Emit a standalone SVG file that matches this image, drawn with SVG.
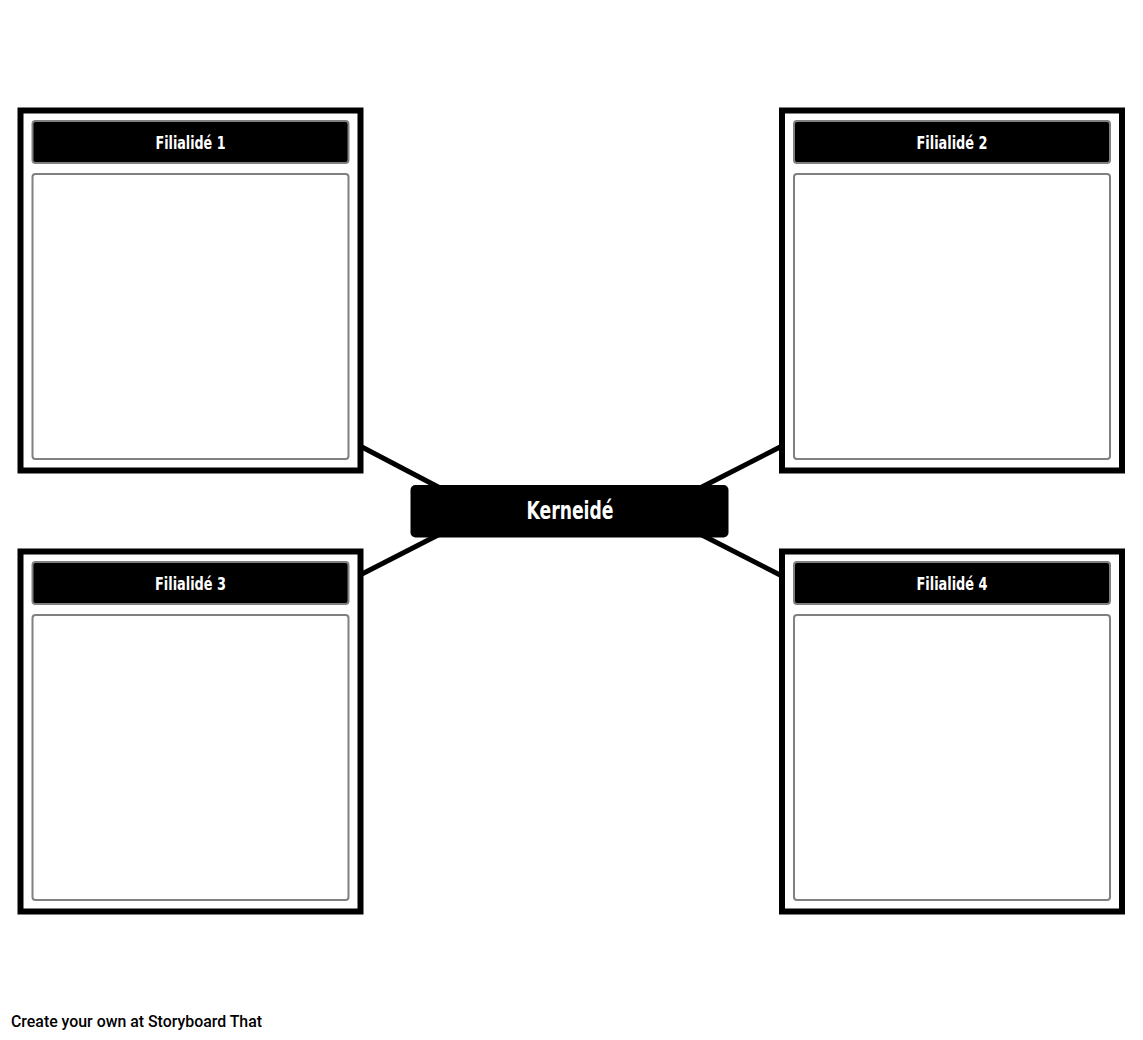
<svg xmlns="http://www.w3.org/2000/svg" width="1143" height="1040" viewBox="0 0 1143 1040">
<style>
.outer{fill:#fff;stroke:#000;stroke-width:6}
.hdr{fill:#000;stroke:#808080;stroke-width:2}
.body{fill:#fff;stroke:#808080;stroke-width:2}
.ht{fill:#fff;font-family:'DejaVu Sans Condensed','DejaVu Sans','Liberation Sans',sans-serif;font-stretch:condensed;font-weight:bold;font-size:18px;text-anchor:middle}
.ct{fill:#fff;font-family:'DejaVu Sans Condensed','DejaVu Sans','Liberation Sans',sans-serif;font-stretch:condensed;font-weight:bold;font-size:25px;text-anchor:middle}
.conn{stroke:#000;stroke-width:5;fill:none}
</style>
<rect width="1143" height="1040" fill="#fff"/>
<g id="connectors">
<line class="conn" x1="360" y1="446" x2="442" y2="489"/>
<line class="conn" x1="360" y1="575" x2="442" y2="533"/>
<line class="conn" x1="782" y1="446" x2="698" y2="489"/>
<line class="conn" x1="782" y1="576" x2="698" y2="533"/>
</g>
<g id="sub1">
<rect class="outer" x="20.5" y="110.5" width="340" height="360"/>
<rect class="hdr" x="32.5" y="121" width="316" height="42" rx="3"/>
<text class="ht" x="190.5" y="149" textLength="70" lengthAdjust="spacingAndGlyphs">Filialidé 1</text>
<rect class="body" x="32.5" y="174" width="316" height="285" rx="3"/>
</g>
<g id="sub2">
<rect class="outer" x="782" y="110.5" width="340" height="360"/>
<rect class="hdr" x="794" y="121" width="316" height="42" rx="3"/>
<text class="ht" x="952" y="149" textLength="71" lengthAdjust="spacingAndGlyphs">Filialidé 2</text>
<rect class="body" x="794" y="174" width="316" height="285" rx="3"/>
</g>
<g id="sub3">
<rect class="outer" x="20.5" y="551.5" width="340" height="360"/>
<rect class="hdr" x="32.5" y="562" width="316" height="42" rx="3"/>
<text class="ht" x="190.5" y="590" textLength="71" lengthAdjust="spacingAndGlyphs">Filialidé 3</text>
<rect class="body" x="32.5" y="615" width="316" height="285" rx="3"/>
</g>
<g id="sub4">
<rect class="outer" x="782" y="551.5" width="340" height="360"/>
<rect class="hdr" x="794" y="562" width="316" height="42" rx="3"/>
<text class="ht" x="952" y="590" textLength="71" lengthAdjust="spacingAndGlyphs">Filialidé 4</text>
<rect class="body" x="794" y="615" width="316" height="285" rx="3"/>
</g>
<g id="center">
<rect x="410.5" y="485" width="318" height="52.5" rx="5" fill="#000"/>
<text class="ct" x="570" y="519" textLength="87" lengthAdjust="spacingAndGlyphs">Kerneidé</text>
</g>
<text x="11" y="1027" font-family="Roboto,'Liberation Sans',sans-serif" font-size="16" font-weight="500" fill="#000" textLength="251" lengthAdjust="spacingAndGlyphs">Create your own at Storyboard That</text>
</svg>
